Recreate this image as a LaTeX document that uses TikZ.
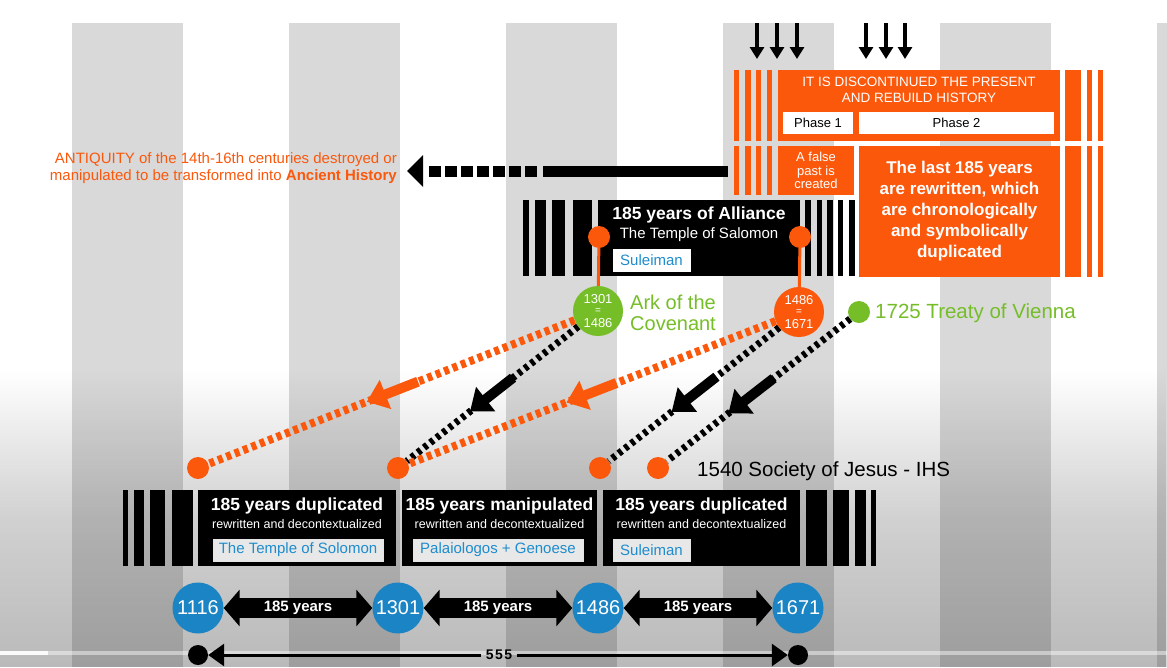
\documentclass[tikz,border=0pt]{standalone}
\usepackage{fontspec}
\setmainfont{Liberation Sans}
\usetikzlibrary{arrows.meta,calc,fadings}
\definecolor{org}{RGB}{252,88,12}
\definecolor{grn}{RGB}{118,190,40}
\definecolor{blu}{RGB}{26,132,196}
\definecolor{lblu}{RGB}{30,140,205}
\definecolor{stripe}{RGB}{217,217,217}
\tikzfading[name=fadedown, top color=transparent!100, bottom color=transparent!10, middle color=transparent!40]
\begin{document}
\begin{tikzpicture}[x=1pt,y=-1pt,
  odash/.style={draw=org, line width=8pt, dash pattern=on 5pt off 4pt},
  bdash/.style={draw=black, line width=7pt, dash pattern=on 4pt off 4pt},
  oarr/.style={draw=org, line width=10pt, -{Triangle[width=30pt,length=20pt]}},
  barr/.style={draw=black, line width=10pt, -{Triangle[width=30pt,length=20pt]}},
  odot/.style={circle, fill=org, minimum size=22pt, inner sep=0pt},
  bigcirc/.style={circle, minimum size=50pt, inner sep=0pt},
  ctxt/.style={text=white, font=\fontsize{13}{13}\selectfont, inner sep=0pt},
  eqtxt/.style={text=white, font=\fontsize{10}{10}\selectfont, inner sep=0pt},
  bcirc/.style={circle, fill=blu, minimum size=51pt, inner sep=0pt, text=white, font=\fontsize{20}{20}\selectfont},
  lbl/.style={fill=gray!18, draw=white!80!gray, line width=0.8pt, text=lblu, font=\fontsize{15}{15}\selectfont, inner sep=0pt, minimum height=22pt},
  bbox/.style={fill=black, minimum height=76pt, inner sep=0pt},
  ttl/.style={text=white, font=\fontsize{17.5}{17.5}\selectfont\bfseries, inner sep=0pt},
  sub/.style={text=white, font=\fontsize{12.5}{12.5}\selectfont, inner sep=0pt},
  dbl/.style={line width=20pt, {Triangle[width=36pt,length=16pt]}-{Triangle[width=36pt,length=16pt]}},
  yrs/.style={text=white, font=\fontsize{15}{15}\selectfont\bfseries, inner sep=0pt},
  enddot/.style={circle, fill=black, minimum size=20pt, inner sep=0pt},
  downarr/.style={line width=3.5pt, -{Triangle[width=14pt,length=12pt]}}
]
\useasboundingbox (0,0) rectangle (1167,667);
\fill[white] (0,0) rectangle (1167,667);
% background stripes
\foreach \x in {72,289,506,723,940} \fill[stripe] (\x,23) rectangle ++(111,644);
\fill[stripe] (1157,23) rectangle (1167,667);
\fill[black, opacity=0.3, path fading=fadedown] (0,370) rectangle (1167,667);
\fill[white, opacity=0.45] (0,651) rectangle (1167,655);
\fill[white, opacity=0.9] (0,651) rectangle (48,655);

% top down arrows
\foreach \x in {757,777,797,866,886,905} {
  \coordinate (ta\x) at (\x,23);
  \coordinate (tb\x) at (\x,59);
  \draw[downarr] (ta\x) -- (tb\x);
}

% orange box, upper part
\foreach \a/\b in {734/739,745/751,756/761,767/772,1065/1081,1087/1092,1098/1103} \fill[org] (\a,70) rectangle (\b,141);
\node[fill=org, minimum width=282pt, minimum height=71pt, inner sep=0pt] (otop) at (919,105.5) {};
\node[text=white, align=center, font=\fontsize{13.5}{16}\selectfont, inner sep=0pt] (otxt) at (919,90) {IT IS DISCONTINUED THE PRESENT\\AND REBUILD HISTORY};
\node[fill=white, minimum width=70pt, minimum height=22pt, inner sep=0pt, font=\fontsize{13}{13}\selectfont] (ph1) at (818,123) {Phase 1};
\node[fill=white, minimum width=195pt, minimum height=22pt, inner sep=0pt, font=\fontsize{13}{13}\selectfont] (ph2) at (956.5,123) {Phase 2};

% orange box, lower part
\foreach \a/\b in {734/739,745/751,756/761,767/772} \fill[org] (\a,146) rectangle (\b,195);
\foreach \a/\b in {1065/1081,1087/1092,1098/1103} \fill[org] (\a,146) rectangle (\b,277);
\node[fill=org, minimum width=76pt, minimum height=49pt, inner sep=0pt, text=white, align=center, font=\fontsize{13}{13.5}\selectfont] (fp) at (816,170.5) {A false\\past is\\created};
\node[fill=org, minimum width=201pt, minimum height=131pt, inner sep=0pt, text=white, align=center, font=\fontsize{17}{21}\selectfont\bfseries] (l185) at (959.5,211.5) {The last 185 years\\are rewritten, which\\are chronologically\\and symbolically\\duplicated};

% black alliance box
\foreach \a/\b in {523/529,535/546,552/565,573/592,805/811,817/822,827/833,838/843,849/855} \fill[black] (\a,200) rectangle (\b,276);
\node[bbox, minimum width=202pt] (ally) at (699,238) {};
\node[ttl] (allyt) at (699,215) {185 years of Alliance};
\node[text=white, font=\fontsize{15}{15}\selectfont, inner sep=0pt] (allys) at (699,235) {The Temple of Salomon};
\node[lbl, fill=white, draw=white, minimum width=77pt] (sul1) at (651.5,260) {Suleiman};

% left big arrow
\coordinate (lstart) at (728,171);
\coordinate (lmid) at (543,171);
\coordinate (ldash) at (537,171);
\coordinate (lend) at (429,171);
\coordinate (ltip) at (407,171);
\draw[line width=11pt] (lstart) -- (lmid);
\draw[line width=11pt, dash pattern=on 12pt off 4pt] (ldash) -- (lend);
\fill (ltip) -- ++(16,-16) -- ++(0,32) -- cycle;
\node[anchor=east, text=org, align=right, font=\fontsize{15}{17}\selectfont, inner sep=0pt] (antiq) at (397,168.5) {ANTIQUITY of the 14th-16th centuries destroyed or\\manipulated to be transformed into \textbf{Ancient History}};

% dots and circles
\node[odot] (pa) at (599,237) {};
\node[odot] (pb) at (800,237) {};
\node[bigcirc, fill=grn] (G) at (598,311) {};
\node[bigcirc, fill=org] (O) at (799,312) {};
\node[ctxt] (g1) at ($(G)+(0,-12)$) {1301};
\node[eqtxt] (g2) at ($(G)+(0,0.5)$) {=};
\node[ctxt] (g3) at ($(G)+(0,12)$) {1486};
\node[ctxt] (o1) at ($(O)+(0,-12)$) {1486};
\node[eqtxt] (o2) at ($(O)+(0,0.5)$) {=};
\node[ctxt] (o3) at ($(O)+(0,12)$) {1671};
\node[circle, fill=grn, minimum size=22pt, inner sep=0pt] (V) at (859,312) {};
\draw[org, line width=3pt] (pa) -- (G);
\draw[org, line width=3pt] (pb) -- (O);
\node[anchor=west, text=grn, align=left, font=\fontsize{20}{21}\selectfont, inner sep=0pt] (ark) at (630,312.5) {Ark of the\\Covenant};
\node[anchor=west, text=grn, font=\fontsize{20.5}{20.5}\selectfont, inner sep=0pt] (vienna) at (875,313) {1725 Treaty of Vienna};

\node[odot] (D1) at (198,468) {};
\node[odot] (D2) at (398,468) {};
\node[odot] (D3) at (600,468) {};
\node[odot] (D4) at (658,468) {};

\draw[bdash] (G) -- (D2);
\draw[bdash] (O) -- (D3);
\draw[bdash] (V) -- (D4);
\draw[odash] (G) -- (D1);
\draw[odash] (O) -- (D2);
\draw[oarr] ($(G)!0.45!(D1)$) -- ($(G)!0.578!(D1)$);
\draw[oarr] ($(O)!0.455!(D2)$) -- ($(O)!0.58!(D2)$);
\draw[barr] ($(G)!0.425!(D2)$) -- ($(G)!0.64!(D2)$);
\draw[barr] ($(O)!0.415!(D3)$) -- ($(O)!0.64!(D3)$);
\draw[barr] ($(V)!0.425!(D4)$) -- ($(V)!0.65!(D4)$);

\node[anchor=west, font=\fontsize{20.5}{20.5}\selectfont, inner sep=0pt] (jesus) at (697,471) {1540 Society of Jesus - IHS};

% bottom boxes
\foreach \a/\b in {123/128,134/144,150/165,172/193,806/827,833/849,855/866,871/876} \fill[black] (\a,490) rectangle (\b,566);
\node[bbox, minimum width=198pt] (B1) at (297,528) {};
\node[bbox, minimum width=195pt] (B2) at (499.5,528) {};
\node[bbox, minimum width=197pt] (B3) at (701.5,528) {};
\node[ttl] (t1) at (297,506) {185 years duplicated};
\node[ttl] (t2) at (499.5,506) {185 years manipulated};
\node[ttl] (t3) at (701.5,506) {185 years duplicated};
\node[sub] (s1) at (297,524) {rewritten and decontextualized};
\node[sub] (s2) at (499.5,524) {rewritten and decontextualized};
\node[sub] (s3) at (701.5,524) {rewritten and decontextualized};
\node[lbl, minimum width=170pt] (L1) at (298,550) {The Temple of Solomon};
\node[lbl, minimum width=170pt] (L2) at (498,550) {Palaiologos + Genoese};
\node[lbl, minimum width=77pt] (L3) at (651.5,550) {Suleiman};

% year circles
\node[bcirc] (C1) at (198,608) {1116};
\node[bcirc] (C2) at (398,608) {1301};
\node[bcirc] (C3) at (598,608) {1486};
\node[bcirc] (C4) at (798,608) {1671};
\draw[dbl] (C1) -- (C2) node[midway, yrs] {185 years};
\draw[dbl] (C2) -- (C3) node[midway, yrs] {185 years};
\draw[dbl] (C3) -- (C4) node[midway, yrs] {185 years};

% 555
\node[enddot] (E1) at (198,655) {};
\node[enddot] (E2) at (798,655) {};
\node[font=\fontsize{14}{14}\selectfont\bfseries, inner xsep=5pt, inner ysep=0pt] (n555) at (499,655) {5\hspace{1.5pt}5\hspace{1.5pt}5};
\draw[line width=3pt, -{Triangle[width=22pt,length=16pt]}] (n555) -- (E1);
\draw[line width=3pt, -{Triangle[width=22pt,length=16pt]}] (n555) -- (E2);
\end{tikzpicture}
\end{document}
